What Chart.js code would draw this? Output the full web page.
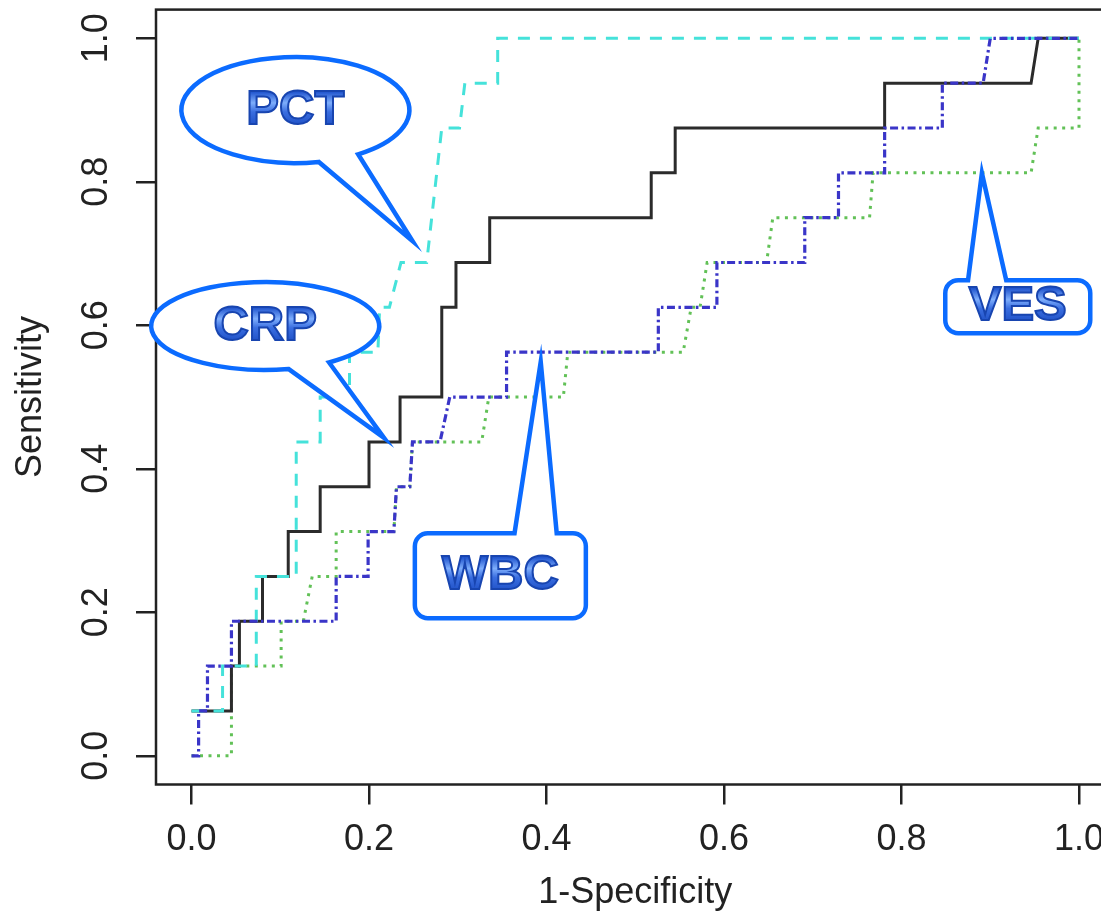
<!DOCTYPE html>
<html>
<head>
<meta charset="utf-8">
<script src="https://cdn.jsdelivr.net/npm/chart.js@4.4.1/dist/chart.umd.min.js"></script>
<style>
html, body { margin: 0; padding: 0; background: #fff; overflow: hidden; width: 1101px; height: 915px; }
#roc { position: absolute; left: 0; top: 0; }
</style>
</head>
<body>
<canvas id="roc" width="1140" height="915"></canvas>
<script>
// ROC curves of the four markers (sensitivity moves in steps of 1/16)
const tickValues = [0, 0.2, 0.4, 0.6, 0.8, 1.0];
const tickLabels = ['0.0', '0.2', '0.4', '0.6', '0.8', '1.0'];

// CRP - black solid
const crpX = [0, 0.045, 0.045, 0.054, 0.054, 0.080, 0.080, 0.109, 0.109, 0.145, 0.145, 0.200, 0.200, 0.235, 0.235,
              0.282, 0.282, 0.298, 0.298, 0.336, 0.336, 0.518, 0.518, 0.545, 0.545, 0.781, 0.781, 0.946, 0.954, 1];
const crpY = [0.0625, 0.0625, 0.125, 0.125, 0.1875, 0.1875, 0.25, 0.25, 0.3125, 0.3125, 0.375, 0.375, 0.4375, 0.4375, 0.5,
              0.5, 0.625, 0.625, 0.6875, 0.6875, 0.75, 0.75, 0.8125, 0.8125, 0.875, 0.875, 0.9375, 0.9375, 1, 1];

// PCT - cyan dashed
const pctX = [0, 0.035, 0.035, 0.073, 0.073, 0.118, 0.118, 0.145, 0.145, 0.178, 0.178,
              0.210, 0.212, 0.223, 0.236, 0.265, 0.282, 0.302, 0.308, 0.345, 0.345, 1];
const pctY = [0.0625, 0.0625, 0.125, 0.125, 0.25, 0.25, 0.4375, 0.4375, 0.5, 0.5, 0.5625,
              0.5625, 0.625, 0.625, 0.6875, 0.6875, 0.875, 0.875, 0.9375, 0.9375, 1, 1];

// WBC - blue dot-dash
const wbcX = [0, 0.008, 0.008, 0.018, 0.018, 0.045, 0.045, 0.163, 0.163, 0.199, 0.199, 0.228, 0.231, 0.246, 0.249, 0.280, 0.291,
              0.355, 0.355, 0.526, 0.526, 0.592, 0.592, 0.691, 0.691, 0.729, 0.729, 0.781, 0.781, 0.846, 0.846, 0.892, 0.900, 1];
const wbcY = [0, 0, 0.0625, 0.0625, 0.125, 0.125, 0.1875, 0.1875, 0.25, 0.25, 0.3125, 0.3125, 0.375, 0.375, 0.4375, 0.4375, 0.5,
              0.5, 0.5625, 0.5625, 0.625, 0.625, 0.6875, 0.6875, 0.75, 0.75, 0.8125, 0.8125, 0.875, 0.875, 0.9375, 0.9375, 1, 1];

// VES - green dotted
const vesX = [0, 0.045, 0.045, 0.101, 0.101, 0.126, 0.136, 0.163, 0.163, 0.228, 0.231, 0.246, 0.249, 0.327, 0.335,
              0.419, 0.424, 0.554, 0.563, 0.573, 0.581, 0.648, 0.655, 0.764, 0.768, 0.946, 0.954, 1, 1];
const vesY = [0, 0, 0.125, 0.125, 0.1875, 0.1875, 0.25, 0.25, 0.3125, 0.3125, 0.375, 0.375, 0.4375, 0.4375, 0.5,
              0.5, 0.5625, 0.5625, 0.625, 0.625, 0.6875, 0.6875, 0.75, 0.75, 0.8125, 0.8125, 0.875, 0.875, 1];

// speech bubbles, anchored in data units; tail = [base1, tip, base2]
const callouts = [
    { text: 'PCT', shape: 'ellipse', at: [0.117, 0.900], w: 228, h: 106, tail: [[0.144, 0.826], [0.249, 0.7175], [0.187, 0.839]] },
    { text: 'CRP', shape: 'ellipse', at: [0.083, 0.599], w: 228, h: 88, tail: [[0.110, 0.538], [0.217, 0.443], [0.156, 0.5475]] },
    { text: 'WBC', shape: 'box', at: [0.348, 0.251], w: 171, h: 85, tail: [[0.364, 0], [0.3935, 0.549], [0.4115, 0]] },
    { text: 'VES', shape: 'box', at: [0.931, 0.626], w: 145, h: 53, tail: [[0.875, 0], [0.8906, 0.812], [0.918, 0]] }
];

const pts = (xs, ys) => xs.map((x, i) => ({ x: x, y: ys[i] }));
const AXIS_FONT = '"Liberation Sans", Arial, sans-serif';

function bubblePath(ctx, c, cx, cy, x, y) {
    const b1 = [x.getPixelForValue(c.tail[0][0]), y.getPixelForValue(c.tail[0][1])];
    const tip = [x.getPixelForValue(c.tail[1][0]), y.getPixelForValue(c.tail[1][1])];
    const b2 = [x.getPixelForValue(c.tail[2][0]), y.getPixelForValue(c.tail[2][1])];
    ctx.beginPath();
    if (c.shape === 'ellipse') {
        const rx = c.w / 2, ry = c.h / 2;
        const t1 = Math.atan2((b1[1] - cy) / ry, (b1[0] - cx) / rx);
        let t2 = Math.atan2((b2[1] - cy) / ry, (b2[0] - cx) / rx);
        while (t2 < t1) t2 += Math.PI * 2;
        ctx.ellipse(cx, cy, rx, ry, 0, t1, t2, false);
        ctx.lineTo(tip[0], tip[1]);
        ctx.closePath();
    } else {
        const l = cx - c.w / 2, r = cx + c.w / 2, t = cy - c.h / 2, b = cy + c.h / 2, rad = 13;
        ctx.moveTo(b2[0], t);
        ctx.lineTo(r - rad, t); ctx.arcTo(r, t, r, t + rad, rad);
        ctx.lineTo(r, b - rad); ctx.arcTo(r, b, r - rad, b, rad);
        ctx.lineTo(l + rad, b); ctx.arcTo(l, b, l, b - rad, rad);
        ctx.lineTo(l, t + rad); ctx.arcTo(l, t, l + rad, t, rad);
        ctx.lineTo(b1[0], t);
        ctx.lineTo(tip[0], tip[1]);
        ctx.closePath();
    }
}

const framePlugin = {
    id: 'frame',
    afterDraw(chart) {
        const { ctx, chartArea: a, scales: { x, y } } = chart;
        ctx.save();
        // R style box round the plot
        ctx.strokeStyle = '#222';
        ctx.lineWidth = 2.5;
        ctx.strokeRect(a.left, a.top, a.right - a.left, a.bottom - a.top);

        // y tick labels parallel to the axis
        ctx.font = '36px ' + AXIS_FONT;
        ctx.fillStyle = '#222';
        ctx.textAlign = 'center';
        ctx.textBaseline = 'middle';
        tickValues.forEach((v, i) => {
            ctx.save();
            ctx.translate(97, y.getPixelForValue(v));
            ctx.rotate(-Math.PI / 2);
            ctx.fillText(tickLabels[i], 0, 0);
            ctx.restore();
        });

        // callouts
        for (const c of callouts) {
            const cx = x.getPixelForValue(c.at[0]);
            const cy = y.getPixelForValue(c.at[1]);
            bubblePath(ctx, c, cx, cy, x, y);
            ctx.fillStyle = '#fff';
            ctx.fill();
            ctx.lineWidth = 4.5;
            ctx.lineJoin = 'miter';
            ctx.strokeStyle = '#0b6bff';
            ctx.stroke();

            ctx.font = 'bold 49px ' + AXIS_FONT;
            const g = ctx.createLinearGradient(0, cy - 18, 0, cy + 18);
            g.addColorStop(0, '#2357cf');
            g.addColorStop(0.3, '#7eaefc');
            g.addColorStop(0.55, '#3a6ee0');
            g.addColorStop(1, '#1a4bc2');
            ctx.fillStyle = g;
            ctx.fillText(c.text, cx, cy);
            ctx.lineWidth = 2;
            ctx.strokeStyle = '#1845b0';
            ctx.strokeText(c.text, cx, cy);
        }
        ctx.restore();
    }
};

const setTicks = scale => { scale.ticks = tickValues.map(v => ({ value: v })); };

new Chart(document.getElementById('roc'), {
    type: 'line',
    data: {
        datasets: [
            { label: 'WBC', data: pts(wbcX, wbcY), borderColor: '#3a35c8', borderWidth: 3.2, borderDash: [8, 3.5, 2.5, 3.5] },
            { label: 'PCT', data: pts(pctX, pctY), borderColor: '#45e2da', borderWidth: 3, borderDash: [12, 10] },
            { label: 'CRP', data: pts(crpX, crpY), borderColor: '#2b2b2b', borderWidth: 3 },
            { label: 'VES', data: pts(vesX, vesY), borderColor: '#62c157', borderWidth: 3, borderDash: [3, 5.5] }
        ]
    },
    options: {
        responsive: false,
        animation: false,
        events: [],
        devicePixelRatio: 1,
        elements: { point: { radius: 0 }, line: { tension: 0, borderCapStyle: 'butt', borderJoinStyle: 'miter' } },
        layout: { padding: { left: 0, top: 9.6, right: 25.5, bottom: 0 } },
        plugins: { legend: { display: false }, tooltip: { enabled: false } },
        scales: {
            x: {
                type: 'linear',
                min: -0.04, max: 1.04,
                afterBuildTicks: setTicks,
                afterFit: s => { s.height = 130.5; },
                border: { display: false },
                grid: { drawOnChartArea: false, drawTicks: true, tickLength: 20, color: '#222', lineWidth: 2.5 },
                ticks: {
                    padding: 18,
                    color: '#222',
                    font: { family: AXIS_FONT, size: 36, lineHeight: 1 },
                    maxRotation: 0, autoSkip: false,
                    callback: (v, i) => tickLabels[i]
                },
                title: { display: true, text: '1-Specificity', color: '#222', padding: { top: 0, bottom: 4 },
                         font: { family: AXIS_FONT, size: 36, lineHeight: 1 } }
            },
            y: {
                type: 'linear',
                min: -0.04, max: 1.04,
                afterBuildTicks: setTicks,
                afterFit: s => { s.width = 156; },
                border: { display: false },
                grid: { drawOnChartArea: false, drawTicks: true, tickLength: 20, color: '#222', lineWidth: 2.5 },
                ticks: { display: false },
                title: { display: true, text: 'Sensitivity', color: '#222', padding: { top: 13, bottom: 0 },
                         font: { family: AXIS_FONT, size: 36, lineHeight: 1 } }
            }
        }
    },
    plugins: [framePlugin]
});
</script>
</body>
</html>
